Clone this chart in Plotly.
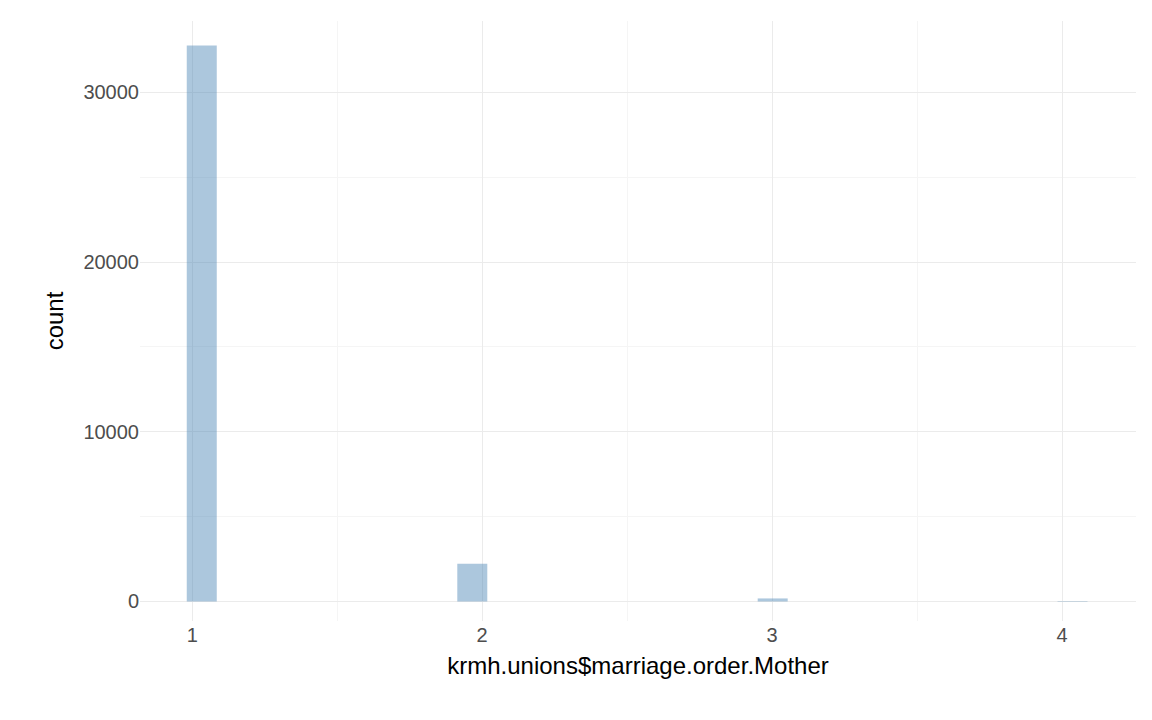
import plotly.graph_objects as go

# histogram bins (centres) and counts
bin_centers = [1.033, 1.966, 3.002, 4.036]
counts = [32750, 2230, 180, 30]
bin_width = 3 / 29

fig = go.Figure(go.Bar(
    x=bin_centers, y=counts, width=bin_width,
    marker=dict(color="rgba(70,130,180,0.45)", line=dict(width=0)),
))

grid = "#ebebeb"
fig.update_layout(
    width=1152, height=720,
    paper_bgcolor="white", plot_bgcolor="white",
    margin=dict(l=132, r=24, t=13, b=107),
    font=dict(family="Liberation Sans, Arial", size=20, color="#4d4d4d"),
    showlegend=False,
    xaxis=dict(
        range=[0.82, 4.255], tickvals=[1, 2, 3, 4], showline=False, zeroline=False,
        gridcolor=grid, gridwidth=1.2,
        minor=dict(tickvals=[1.5, 2.5, 3.5], showgrid=True, gridcolor="#f5f5f5"),
        title=dict(text="krmh.unions$marriage.order.Mother", font=dict(size=24, color="black"), standoff=12),
    ),
    yaxis=dict(
        range=[-1150, 34200], tickvals=[0, 10000, 20000, 30000], tickformat="d",
        showline=False, zeroline=False,
        gridcolor=grid, gridwidth=1.2,
        minor=dict(tickvals=[5000, 15000, 25000], showgrid=True, gridcolor="#f5f5f5"),
        title=dict(text="count", font=dict(size=24, color="black"), standoff=12),
    ),
)

fig.write_html("out.html")
